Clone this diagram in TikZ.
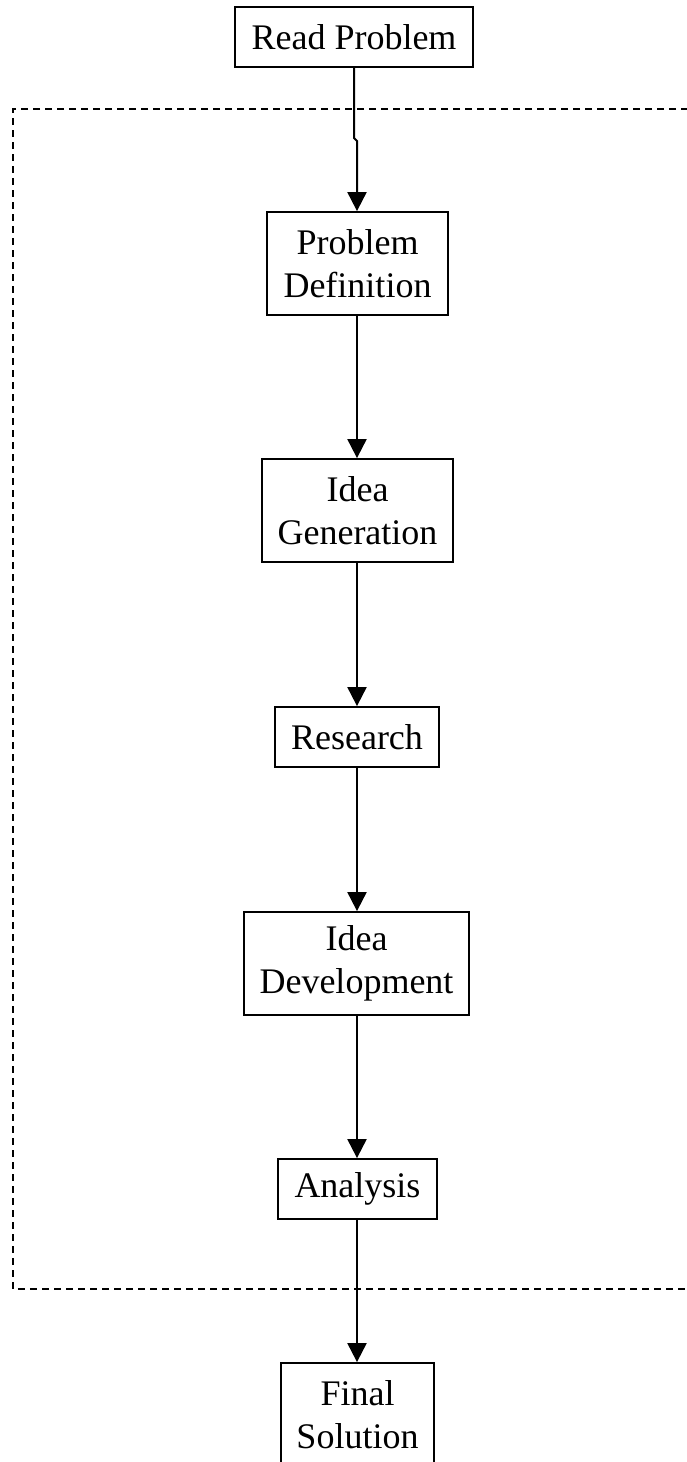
\documentclass[tikz,border=0pt]{standalone}
\usepackage{fontspec}
\setmainfont{Liberation Serif}
\usetikzlibrary{arrows.meta}
\begin{document}
\begin{tikzpicture}[x=1pt,y=-1pt,
  stepbox/.style={draw, line width=1.8pt, align=center, inner sep=0pt,
    font=\fontsize{36}{43}\selectfont},
  flow/.style={line width=2pt, -{Triangle[width=19pt,length=19pt]}},
  frame/.style={line width=1.4pt, dash pattern=on 7pt off 5pt}]
\useasboundingbox (0,0) rectangle (687,1462);
\clip (0,0) rectangle (687,1462);

% dashed enclosure of the iterative stages
\draw[frame] (700,109) -- (13,109) -- (13,1289) -- (700,1289);

% process stages
\node[stepbox, minimum width=238pt, minimum height=60pt] (rp) at (354,37) {Read Problem};
\node[stepbox, minimum width=181pt, minimum height=103pt] (pd) at (357.5,263.5) {Problem\\Definition};
\node[stepbox, minimum width=191pt, minimum height=103pt] (ig) at (357.5,510.5) {Idea\\Generation};
\node[stepbox, minimum width=164pt, minimum height=60pt] (rs) at (357,737) {Research};
\node[stepbox, minimum width=225pt, minimum height=103pt] (id) at (356.5,963.5) {Idea\\Development};
\node[stepbox, minimum width=159pt, minimum height=60pt] (an) at (357.5,1189) {Analysis};
\node[stepbox, minimum width=153pt, minimum height=103pt] (fs) at (357.5,1414.5) {Final\\Solution};

% vertical axis of the flow
\coordinate (ax) at (357,0);

% connectors
\coordinate (j1) at (354,138);
\coordinate (j2) at (357,141);
\draw[flow] (rp.south) -- (j1) -- (j2) -- (pd.north -| ax);
\draw[flow] (pd.south -| ax) -- (ig.north -| ax);
\draw[flow] (ig.south -| ax) -- (rs.north -| ax);
\draw[flow] (rs.south -| ax) -- (id.north -| ax);
\draw[flow] (id.south -| ax) -- (an.north -| ax);
\draw[flow] (an.south -| ax) -- (fs.north -| ax);
\end{tikzpicture}
\end{document}
